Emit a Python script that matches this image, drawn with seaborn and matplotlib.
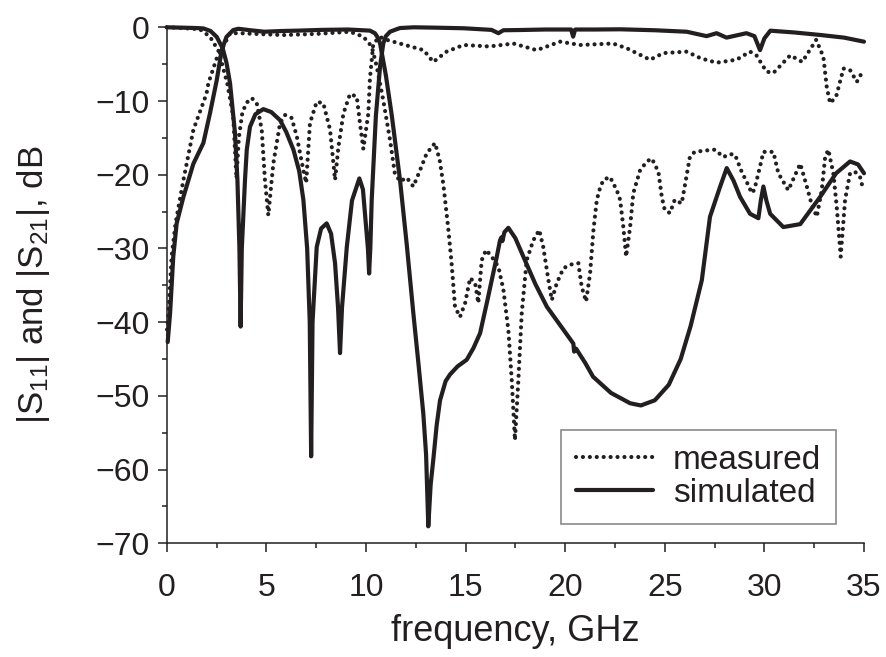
import numpy as np
import pandas as pd
import matplotlib
matplotlib.use("Agg")
import matplotlib.pyplot as plt
import seaborn as sns
from matplotlib.ticker import MultipleLocator

# ---------------- data (frequency GHz, level dB) ----------------
sim_s11 = [(0, 0), (0.8, -0.05), (1.5, -0.1), (1.84, -0.15), (2.2, -0.5), (2.51, -1.3),
           (2.81, -2.85), (3.0, -4.8), (3.18, -7.6), (3.43, -14.4), (3.55, -20.7),
           (3.65, -30), (3.71, -40.6), (3.77, -30), (3.93, -20.7), (4.02, -16.6),
           (4.18, -13.5), (4.45, -11.8), (4.85, -11.1), (5.25, -11.5), (5.69, -12.6),
           (6.0, -14.2), (6.36, -16.6), (6.65, -19.5), (6.86, -23.4), (7.05, -30),
           (7.18, -40), (7.25, -58.2), (7.32, -40), (7.53, -29.8), (7.75, -27.3),
           (8.03, -26.6), (8.25, -28), (8.45, -32), (8.6, -38), (8.70, -44.2),
           (8.8, -38), (9.04, -29.8), (9.3, -23.5), (9.67, -20.5), (9.85, -22),
           (9.95, -25.2), (10.1, -30), (10.16, -33.4), (10.22, -30), (10.29, -23.4),
           (10.5, -12), (10.71, -5.3), (10.87, -2.2), (11.0, -1.2), (11.21, -0.6),
           (11.5, -0.3), (11.71, -0.1), (12.4, 0), (13.5, -0.05), (14.9, -0.13),
           (16.3, -0.35), (16.65, -0.8), (16.9, -0.4), (17.73, -0.37), (19.0, -0.3),
           (20.3, -0.3), (20.4, -1.27), (20.5, -0.3), (21.5, -0.3), (22.75, -0.27),
           (24.5, -0.4), (26.1, -0.6), (27.1, -1.2), (27.6, -0.8), (28.1, -1.4),
           (28.6, -1.1), (29.1, -0.8), (29.5, -1.2), (29.78, -3.1), (30.0, -1.5),
           (30.3, -0.46), (31.5, -0.7), (32.8, -1.04), (34.0, -1.4), (35.0, -1.95)]

sim_s21 = [(0.05, -42.7), (0.17, -38.8), (0.33, -31.1), (0.5, -26.6), (0.84, -23),
           (1.34, -18.5), (1.84, -15.7), (2.17, -11.7), (2.51, -7.2), (2.76, -3.1),
           (3.0, -1.3), (3.34, -0.37), (3.6, -0.2), (4.2, -0.4), (4.9, -0.6),
           (5.8, -0.5), (6.6, -0.45), (7.8, -0.35), (9.1, -0.3), (10.2, -0.45),
           (10.45, -0.8), (10.62, -1.5), (10.71, -2.2), (11.0, -6.5), (11.3, -12),
           (11.71, -20.7), (12.05, -29.5), (12.38, -38.8), (12.65, -46), (12.88, -52.4),
           (13.02, -58), (13.13, -67.7), (13.25, -62), (13.38, -58.7), (13.55, -54),
           (13.72, -50.6), (14.0, -48), (14.22, -47.1), (14.6, -46), (15.06, -45.1),
           (15.4, -43.5), (15.73, -41.5), (16.1, -37), (16.57, -31.1), (16.73, -28.9),
           (16.8, -28.5), (16.85, -29), (16.95, -27.8), (17.15, -27.2), (17.5, -28.6),
           (17.9, -31.1), (18.5, -34.8), (19.08, -37.9), (19.8, -40.6), (20.41, -42.9),
           (20.45, -44), (20.55, -43.6), (21.0, -45.5), (21.4, -47.4), (22.3, -49.6),
           (23.26, -51.0), (23.8, -51.3), (24.5, -50.6), (25.2, -48.5), (25.8, -45),
           (26.3, -40.5), (26.86, -34.3), (27.27, -25.7), (27.78, -21.6), (28.11, -19.1),
           (28.45, -20.8), (28.78, -23), (29.28, -25.3), (29.7, -25.9), (29.82, -23.5),
           (29.95, -21.6), (30.1, -23.5), (30.29, -25.3), (30.95, -27.1), (31.8, -26.7),
           (32.8, -23), (33.6, -19.8), (34.3, -18.2), (34.7, -18.6), (35.0, -19.8)]

meas_s11 = [(0, 0), (0.8, -0.1), (1.67, -0.27), (2.17, -1.27), (2.6, -3.2), (3.04, -7.6),
            (3.34, -12.1), (3.5, -20.5), (3.62, -15), (3.8, -11.5), (4.02, -10.2),
            (4.27, -9.6), (4.52, -10.3), (4.77, -13.9), (4.93, -20.7), (5.1, -25.5),
            (5.35, -18.5), (5.69, -13), (5.94, -11.9), (6.27, -12.3), (6.53, -14.8),
            (6.86, -19.4), (7.0, -21.1), (7.19, -13), (7.53, -10.1), (7.86, -10.3),
            (8.2, -13.9), (8.45, -20.7), (8.62, -16.2), (8.87, -11.7), (9.2, -9.05),
            (9.54, -9.4), (9.7, -13), (9.87, -16.5), (10.12, -11.7), (10.2, -7),
            (10.37, -2.2), (10.7, -1.3), (11.04, -1.7), (11.7, -2.2), (12.9, -3.1),
            (13.38, -4.7), (14.05, -3.3), (14.9, -2.4), (16.2, -2.6), (17.4, -2.2),
            (18.57, -3.1), (19.75, -1.95), (20.75, -2.4), (22.4, -2.2), (23.1, -2.85),
            (24.26, -4.4), (24.93, -3.5), (26.1, -3.3), (26.8, -4.2), (27.6, -4.8),
            (28.6, -4.4), (29.28, -3.3), (29.6, -3.8), (30.1, -6.0), (30.45, -6.2),
            (31.3, -3.8), (31.9, -4.7), (32.6, -1.7), (32.96, -4), (33.13, -8.1),
            (33.3, -10.3), (33.6, -9.4), (33.97, -5.6), (34.3, -5.8), (34.64, -7.4),
            (34.97, -5.8)]

meas_s21 = [(0.02, -41), (0.08, -39.3), (0.25, -31), (0.45, -26.5), (0.84, -20.7),
            (1.34, -13.9), (2.0, -9.0), (2.09, -7.6), (2.51, -4.2), (2.84, -2.6),
            (3.18, -0.8), (3.68, -0.8), (4.5, -0.9), (5.85, -1.05), (7.5, -0.9),
            (9.2, -0.6), (9.87, -1.27), (10.29, -2.6), (10.54, -5.3), (10.87, -9.9),
            (11.21, -15.3), (11.45, -19.8), (11.71, -20.9), (12.05, -20.4), (12.38, -21.6),
            (12.7, -19.5), (13.05, -17.1), (13.47, -15.7), (13.7, -18), (13.89, -21.4),
            (14.14, -27.5), (14.3, -32), (14.47, -37.9), (14.72, -39.3), (14.98, -37.4),
            (15.23, -34), (15.48, -34.7), (15.64, -37.4), (15.81, -31.6), (16.03, -30.2),
            (16.31, -31.1), (16.65, -32.5), (16.9, -35.6), (17.15, -41.1), (17.32, -47.9),
            (17.48, -56), (17.65, -47.9), (17.82, -38.8), (18.07, -31.6), (18.4, -28.9),
            (18.7, -27.5), (18.9, -29.8), (19.16, -34.3), (19.33, -37), (19.58, -34.7),
            (19.91, -32.7), (20.25, -32.2), (20.66, -32), (20.83, -35.2), (21.05, -37.2),
            (21.25, -33.4), (21.42, -27.5), (21.59, -23.4), (21.75, -21.8), (21.92, -20.7),
            (22.25, -20.3), (22.59, -22.1), (22.76, -23.4), (22.92, -27.1), (23.06, -31.1),
            (23.26, -27.1), (23.42, -22.5), (23.76, -19.4), (24.1, -18.2), (24.35, -17.8),
            (24.68, -19.6), (24.85, -23), (25.0, -24.8), (25.26, -25.2), (25.5, -23.4),
            (25.85, -23.9), (26.0, -21.6), (26.26, -17.6), (26.5, -16.9), (27.1, -16.7),
            (27.52, -16.6), (27.94, -17.6), (28.28, -17.2), (28.53, -17.3), (28.86, -19.6),
            (29.1, -20.9), (29.37, -22.5), (29.5, -22.0), (29.78, -18.9), (29.95, -16.9),
            (30.45, -16.9), (30.7, -19.8), (31.2, -22.1), (31.8, -18.5), (32.13, -21.6),
            (32.38, -24.1), (32.63, -25.7), (32.88, -22.1), (33.05, -17.6), (33.21, -16.6),
            (33.46, -19.8), (33.63, -24.3), (33.83, -31.1), (34.05, -23.4), (34.3, -19.8),
            (34.55, -19.6), (34.8, -20.3), (34.97, -22.1)]

x_ticks = [0, 5, 10, 15, 20, 25, 30, 35]
y_ticks = [0, -10, -20, -30, -40, -50, -60, -70]
x_label = "frequency, GHz"
y_label = "|S$_{11}$| and |S$_{21}$|, dB"
legend_labels = ["measured", "simulated"]

# ---------------- style ----------------
sns.set_theme(style="ticks")
INK = "#231f20"
plt.rcParams["font.family"] = ["Liberation Sans", "DejaVu Sans"]
plt.rcParams["mathtext.fontset"] = "custom"
plt.rcParams["mathtext.rm"] = "Liberation Sans"
plt.rcParams["mathtext.it"] = "Liberation Sans:italic"
plt.rcParams["mathtext.bf"] = "Liberation Sans:bold"
plt.rcParams["text.color"] = INK
plt.rcParams["axes.labelcolor"] = INK

fig = plt.figure(figsize=(8.86, 6.57), dpi=100)
ax = fig.add_axes([166.7 / 886, (657 - 543.3) / 657, (864 - 166.7) / 886, (543.3 - 27.3) / 657])

def frame(pairs):
    return pd.DataFrame(pairs, columns=["f", "db"])

DOT = (0, (0.01, 1.65))
series = [
    (meas_s21, DOT, 3.0, "measured"),
    (meas_s11, DOT, 3.0, None),
    (sim_s21, "-", 3.0, "simulated"),
    (sim_s11, "-", 3.0, None),
]
for pairs, ls, lw, lab in series:
    d = frame(pairs)
    sns.lineplot(data=d, x="f", y="db", ax=ax, sort=False, estimator=None,
                 color=INK, linewidth=lw, linestyle=ls, label=lab, legend=False)

for ln in ax.lines:
    ln.set_clip_on(False)
    ln.set_dash_capstyle("round")
    ln.set_solid_capstyle("round")
    ln.set_solid_joinstyle("round")

ax.set_xlim(0, 35)
ax.set_ylim(-70, 0)
ax.set_xticks(x_ticks)
ax.set_yticks(y_ticks)
ax.set_yticklabels([str(v).replace("-", "\u2212") for v in y_ticks])
ax.xaxis.set_minor_locator(MultipleLocator(2.5))
ax.yaxis.set_minor_locator(MultipleLocator(5))

for s in ["top", "right"]:
    ax.spines[s].set_visible(False)
for s in ["left", "bottom"]:
    ax.spines[s].set_linewidth(1.1)
    ax.spines[s].set_color(INK)

ax.tick_params(axis="both", which="major", direction="out", length=6.5, width=1.1,
               colors=INK, labelsize=23)
ax.tick_params(axis="both", which="minor", direction="out", length=3.8, width=1.1,
               colors=INK)
ax.tick_params(axis="x", which="major", pad=15)
ax.tick_params(axis="y", which="major", pad=6)

ax.set_xlabel(x_label, fontsize=26, labelpad=8)
ax.set_ylabel(y_label, fontsize=25, labelpad=31)

handles = [ax.lines[0], ax.lines[2]]
leg = ax.legend(handles, legend_labels, loc="upper left",
                bbox_to_anchor=(561 / 886, (657 - 430) / 657), bbox_transform=fig.transFigure,
                borderaxespad=0, fontsize=24, frameon=True, fancybox=False,
                handlelength=2.3, handletextpad=0.6, borderpad=0.45, labelspacing=0.05)
leg.get_frame().set_edgecolor("#8a8a8a")
leg.get_frame().set_linewidth(1.2)
leg.get_frame().set_alpha(1)

fig.savefig("out.png", dpi=100)
